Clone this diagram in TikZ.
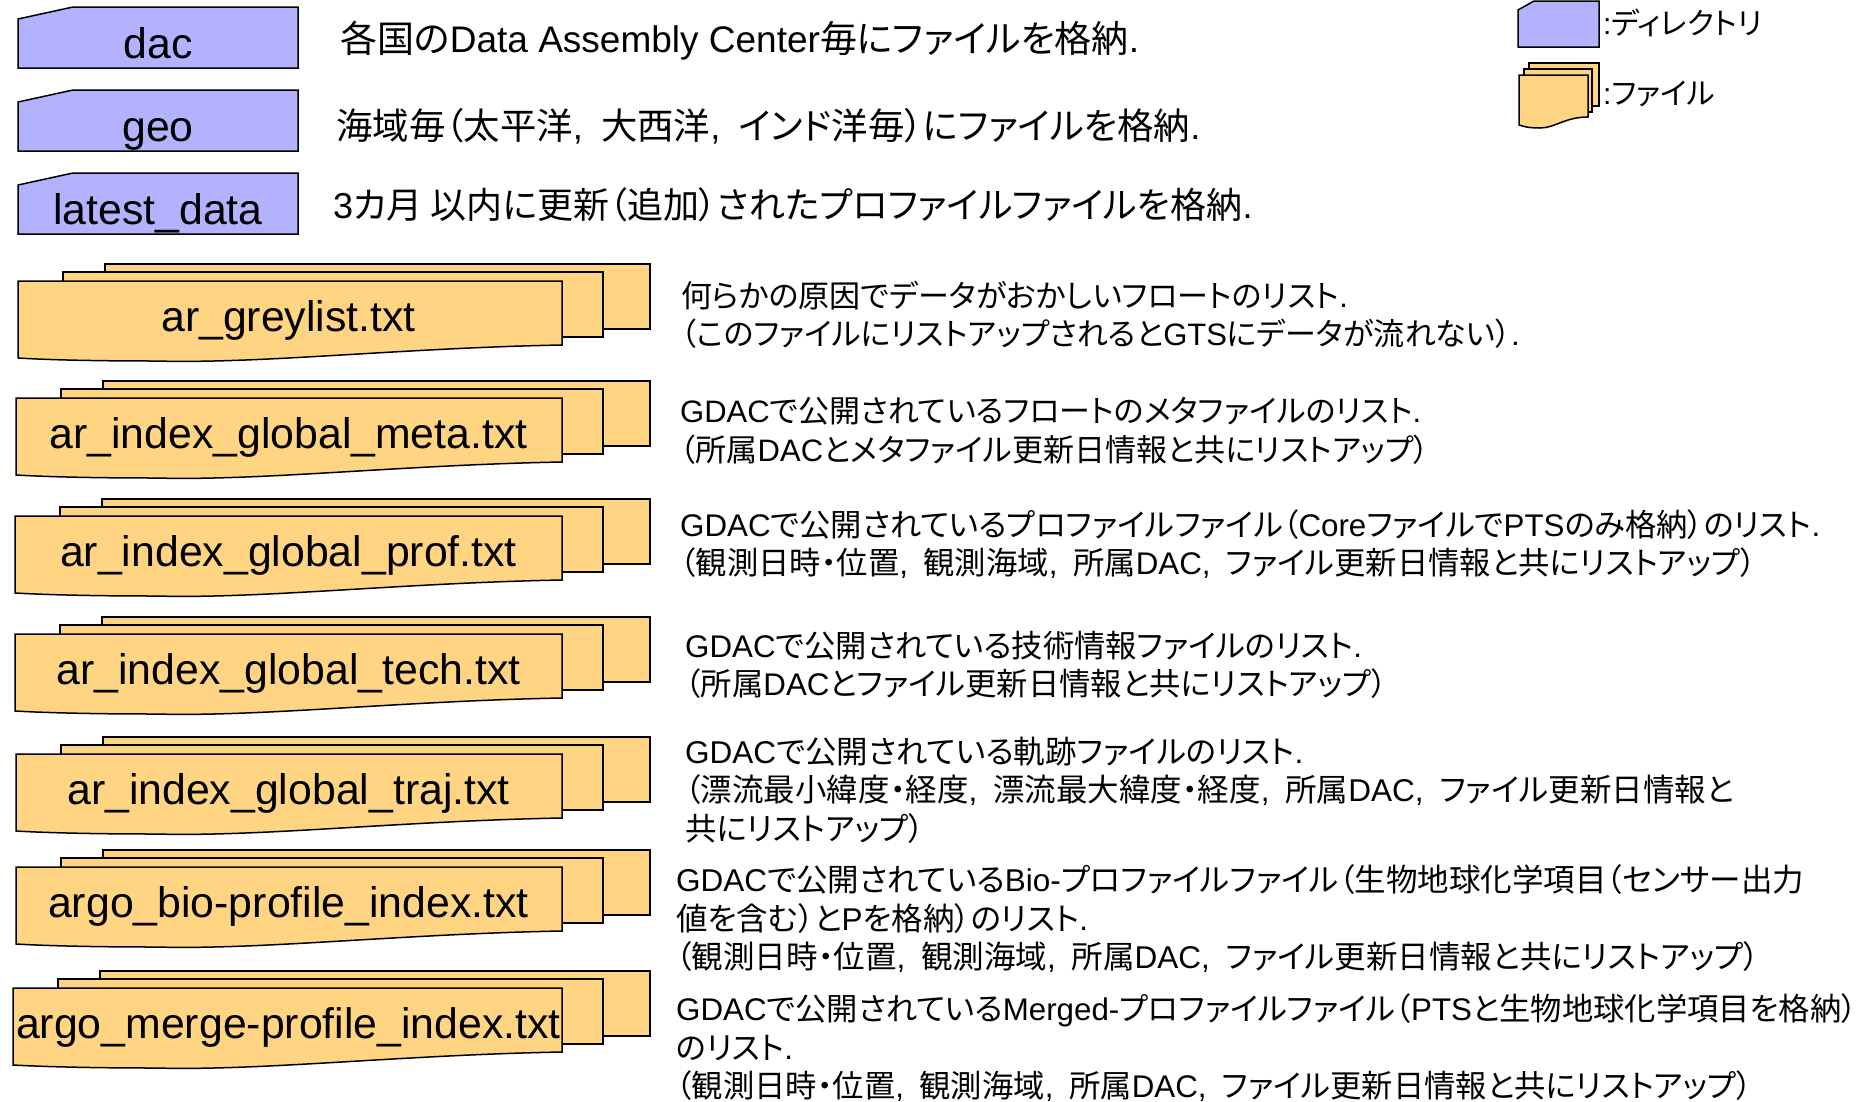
\documentclass[tikz,border=0pt]{standalone}
\usepackage{fontspec}
\setmainfont{Liberation Sans}
\newfontfamily\cjk[RawFeature={+palt}]{Noto Sans CJK JP}
\usetikzlibrary{positioning}
\definecolor{dirblue}{RGB}{178,178,255}
\definecolor{fileorange}{RGB}{255,212,130}
\newcommand{\jp}[1]{{\cjk #1}}
\tikzset{
      dirshape/.style   = {draw=black, fill=dirblue, line width=1.5pt},
      fileshape/.style  = {draw=black, fill=fileorange, line width=1.5pt},
      namelabel/.style  = {font=\fontsize{42.8}{46}\selectfont, anchor=base, inner sep=0pt},
      notelabel/.style  = {font=\fontsize{31.3}{38.5}\selectfont, anchor=west, align=left, inner sep=0pt},
      shortnote/.style  = {notelabel, font=\fontsize{31}{38.5}\selectfont},
      longnote/.style   = {notelabel, font=\fontsize{31.5}{38.5}\selectfont},
      toplabel/.style   = {font=\fontsize{36}{40}\selectfont, anchor=west, inner sep=0pt},
      keylabel/.style   = {font=\fontsize{30}{32}\selectfont, anchor=west, inner sep=0pt},
    }
% #1 name, #2 left, #3 top, #4 text
\newcommand{\dirbox}[4]{
        \path[dirshape] (#2,#3+12) -- (#2+55,#3) -- (298,#3) -- (298,#3+61) -- (#2,#3+61) -- cycle;
        \node[namelabel] (#1) at (158,#3+51.5) {#4};
}
% #1 name, #2 left of front sheet, #3 top of back sheet, #4 text
\newcommand{\filestack}[4]{
        \path[fileshape] (#2+87,#3) -- (650,#3) -- (650,#3+65) -- (#2+87,#3+65) -- cycle;
        \path[fileshape] (#2+45,#3+8) -- (603,#3+8) -- (603,#3+73) -- (#2+45,#3+73) -- cycle;
        \path[fileshape] (#2,#3+17) -- (562,#3+17) -- (562,#3+81)
              .. controls (400,#3+84) and (260,#3+100) .. (156,#3+97)
              .. controls (100,#3+97) and (50,#3+96) .. (#2,#3+94) -- cycle;
        \node[namelabel] (#1) at (288.5,#3+67) {#4};
}
\begin{document}
\begin{tikzpicture}[x=1pt,y=-1pt]
        \useasboundingbox (0,0) rectangle (1872,1101);
        \dirbox{dac}{18}{7}{dac}
        \dirbox{geo}{18}{90}{geo}
        \dirbox{latest}{18}{173}{latest\_data}

        \node[toplabel,font=\fontsize{37}{40}\selectfont] (dacnote) at (340,41) {\jp{各国の}Data Assembly Center\jp{毎にファイルを格納}.};
        \node[toplabel,font=\fontsize{36.4}{40}\selectfont] (geonote) at (336,126) {\jp{海域毎（太平洋},\enspace \jp{大西洋},\enspace \jp{インド洋毎）にファイルを格納}.};
        \node[toplabel] (latestnote) at (333,205) {3\jp{カ月 以内に更新（追加）されたプロファイルファイルを格納}.};

        \filestack{greylist}{18}{264}{ar\_greylist.txt}
        \filestack{meta}{16}{381}{ar\_index\_global\_meta.txt}
        \filestack{prof}{15}{499}{ar\_index\_global\_prof.txt}
        \filestack{tech}{15}{617}{ar\_index\_global\_tech.txt}
        \filestack{traj}{16}{737}{ar\_index\_global\_traj.txt}
        \filestack{bio}{16}{850}{argo\_bio-profile\_index.txt}
        \filestack{merge}{13}{971}{argo\_merge-profile\_index.txt}

        \node[shortnote] (greynote) at (681,315) {\jp{何らかの原因でデータがおかしいフロートのリスト}.\\\jp{（このファイルにリストアップされると}GTS\jp{にデータが流れない）}.};
        \node[shortnote] (metanote) at (680,431) {GDAC\jp{で公開されているフロートのメタファイルのリスト}.\\\jp{（所属}DAC\jp{とメタファイル更新日情報と共にリストアップ）}};
        \node[notelabel] (profnote) at (680,544) {GDAC\jp{で公開されているプロファイルファイル（}Core\jp{ファイルで}PTS\jp{のみ格納）のリスト}.\\\jp{（観測日時・位置},\enspace \jp{観測海域},\enspace \jp{所属}DAC,\enspace \jp{ファイル更新日情報と共にリストアップ）}};
        \node[notelabel] (technote) at (685,665) {GDAC\jp{で公開されている技術情報ファイルのリスト}.\\\jp{（所属}DAC\jp{とファイル更新日情報と共にリストアップ）}};
        \node[longnote] (trajnote) at (685,790) {GDAC\jp{で公開されている軌跡ファイルのリスト}.\\\jp{（漂流最小緯度・経度},\enspace \jp{漂流最大緯度・経度},\enspace \jp{所属}DAC,\enspace \jp{ファイル更新日情報と}\\\jp{共にリストアップ）}};
        \node[longnote] (bionote) at (676,919) {GDAC\jp{で公開されている}Bio-\jp{プロファイルファイル（生物地球化学項目（センサー出力}\\\jp{値を含む）と}P\jp{を格納）のリスト}.\\\jp{（観測日時・位置},\enspace \jp{観測海域},\enspace \jp{所属}DAC,\enspace \jp{ファイル更新日情報と共にリストアップ）}};
        \node[notelabel] (mergenote) at (676,1048) {GDAC\jp{で公開されている}Merged-\jp{プロファイルファイル（}PTS\jp{と生物地球化学項目を格納）}\\\jp{のリスト}.\\\jp{（観測日時・位置},\enspace \jp{観測海域},\enspace \jp{所属}DAC,\enspace \jp{ファイル更新日情報と共にリストアップ）}};

        % key
        \path[dirshape] (1518,10) -- (1534,1) -- (1599,1) -- (1599,47) -- (1518,47) -- cycle;
        \path[fileshape] (1529,63) -- (1599,63) -- (1599,106) -- (1529,106) -- cycle;
        \path[fileshape] (1524,69) -- (1592,69) -- (1592,112) -- (1524,112) -- cycle;
        \path[fileshape] (1519,75) -- (1588,75) -- (1588,117)
              .. controls (1565,117) and (1555,128) .. (1540,128)
              .. controls (1530,128) and (1525,127) .. (1519,125) -- cycle;
        \node[keylabel] (dirkey) at (1603,23) {:\jp{ディレクトリ}};
        \node[keylabel] (filekey) at (1603,94) {:\jp{ファイル}};
\end{tikzpicture}
\end{document}
